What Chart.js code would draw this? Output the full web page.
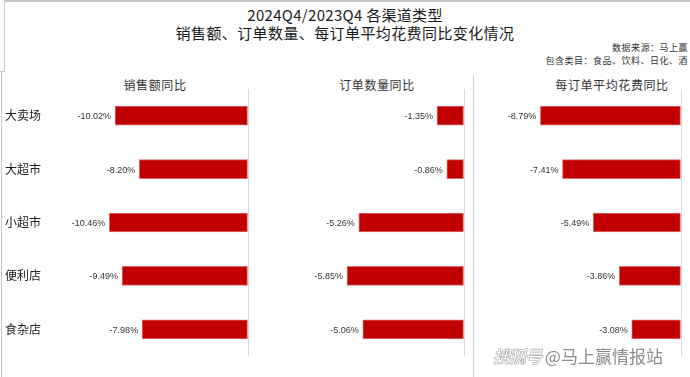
<!DOCTYPE html>
<html>
<head>
<meta charset="utf-8">
<script src="https://cdn.jsdelivr.net/npm/chart.js@4"></script>
<style>
  html, body { margin:0; padding:0; background:#fff; }
  body { width:690px; height:377px; position:relative; overflow:hidden; font-family:"Noto Sans CJK SC", sans-serif; }
  .abs { position:absolute; }
  .t1 { left:0; width:690px; top:5px; text-align:center; font-size:15px; line-height:20px; color:#1a1a1a; letter-spacing:0.3px; }
  .t2 { left:0; width:690px; top:23px; text-align:center; font-size:15px; line-height:20px; color:#1a1a1a; letter-spacing:0.4px; }
  .src { right:2px; font-size:9px; line-height:12px; color:#333; text-align:right; letter-spacing:0.5px; }
  .ptitle { top:77px; font-size:12px; line-height:16px; color:#333; text-align:center; letter-spacing:0.6px; width:200px; margin-left:-100px; }
  .line { background:#c8c8c8; }
  .wm { left:493px; top:345px; font-size:17px; line-height:22px; white-space:nowrap; }
  .wm .a { color:#fff; font-style:italic; font-weight:bold; -webkit-text-stroke:0.6px #aaa; letter-spacing:-1px; }
  .wm .b { color:#8c8c8c; text-shadow:0 0 2px #fff, 0 0 2px #fff; }
</style>
</head>
<body>
<div class="abs line" style="left:4px;top:0;width:686px;height:2px;"></div>
<div class="abs line" style="left:4px;top:0;width:1px;height:71px;"></div>
<div class="abs line" style="left:0;top:71px;width:5px;height:1px;"></div>
<div class="abs line" style="left:1px;top:71px;width:1px;height:306px;"></div>
<div class="abs line" style="left:473px;top:75px;width:1px;height:302px;background:#d0d0d0;"></div>

<div class="abs t1">2024Q4/2023Q4 各渠道类型</div>
<div class="abs t2">销售额、订单数量、每订单平均花费同比变化情况</div>
<div class="abs src" style="top:42px;">数据来源：马上赢</div>
<div class="abs src" style="top:55px;">包含类目：食品、饮料、日化、酒</div>

<div class="abs ptitle" style="left:155px;">销售额同比</div>
<div class="abs ptitle" style="left:377px;">订单数量同比</div>
<div class="abs ptitle" style="left:612px;">每订单平均花费同比</div>

<div class="abs" style="left:0;top:70px;width:252px;height:307px;"><canvas id="c1"></canvas></div>
<div class="abs" style="left:250px;top:70px;width:220px;height:307px;"><canvas id="c2"></canvas></div>
<div class="abs" style="left:475px;top:70px;width:215px;height:307px;"><canvas id="c3"></canvas></div>

<div class="abs wm"><span class="a">搜狐号</span> <span class="b">@马上赢情报站</span></div>

<script>
const categories = ["大卖场", "大超市", "小超市", "便利店", "食杂店"];
const salesYoY = [-10.02, -8.20, -10.46, -9.49, -7.98];
const ordersYoY = [-1.35, -0.86, -5.26, -5.85, -5.06];
const avgSpendYoY = [-8.79, -7.41, -5.49, -3.86, -3.08];

const labelPlugin = {
  id: 'valLabels',
  afterDatasetsDraw(chart) {
    const ctx = chart.ctx;
    const ds = chart.data.datasets[0];
    const meta = chart.getDatasetMeta(0);
    ctx.save();
    ctx.font = '9px "Liberation Sans", Arial, sans-serif';
    ctx.fillStyle = '#333';
    ctx.textAlign = 'right';
    ctx.textBaseline = 'middle';
    meta.data.forEach((bar, i) => {
      ctx.fillText(ds.data[i].toFixed(2) + '%', bar.x - 4, bar.y + 1);
    });
    ctx.restore();
  }
};

function makeChart(id, data, minV, pad, showCats) {
  return new Chart(document.getElementById(id), {
    type: 'bar',
    data: {
      labels: categories,
      datasets: [{
        data: data,
        backgroundColor: '#C00000',
        borderColor: '#E07070',
        borderWidth: 1,
        borderSkipped: false,
        barThickness: 19
      }]
    },
    options: {
      indexAxis: 'y',
      responsive: true,
      maintainAspectRatio: false,
      animation: false,
      layout: { padding: pad },
      plugins: { legend: { display: false }, tooltip: { enabled: false } },
      scales: {
        x: {
          min: minV, max: 0,
          ticks: { display: false, stepSize: 1 },
          border: { display: false },
          grid: {
            drawTicks: false,
            lineWidth: 1,
            color: (c) => (c.tick && c.tick.value === 0) ? '#d9d9d9' : 'rgba(0,0,0,0)'
          },
          afterFit: (s) => { s.height = 0; }
        },
        y: {
          display: showCats,
          border: { display: false },
          grid: { display: false, drawTicks: false },
          ticks: {
            crossAlign: 'far',
            padding: 0,
            color: '#222',
            font: { family: '"Noto Sans CJK SC", sans-serif', size: 12 }
          },
          afterFit: (s) => { s.width = showCats ? 44 : 0; }
        }
      }
    },
    plugins: [labelPlugin]
  });
}

makeChart('c1', salesYoY, -15, { left: 5, right: 4, top: 19, bottom: 21 }, true);
makeChart('c2', ordersYoY, -10, { left: 14, right: 6, top: 19, bottom: 21 }, false);
makeChart('c3', avgSpendYoY, -12, { left: 14, right: 9, top: 19, bottom: 21 }, false);
</script>
</body>
</html>
